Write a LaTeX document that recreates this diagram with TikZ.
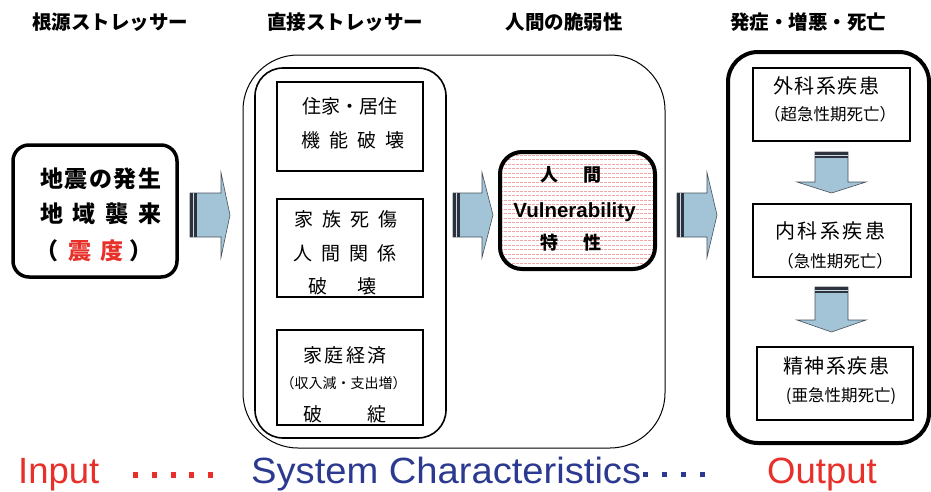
\documentclass[tikz,border=0pt]{standalone}
\usepackage{fontspec}
\setmainfont{Liberation Sans}
\newfontfamily\jp{Noto Sans CJK JP}
\definecolor{arrowfill}{RGB}{163,196,214}
\definecolor{arrowedge}{RGB}{70,80,90}
\definecolor{stripe}{RGB}{45,50,60}
\definecolor{inred}{RGB}{232,48,42}
\definecolor{sysblue}{RGB}{43,57,144}
\definecolor{pinkdot}{RGB}{242,165,165}
\newcommand\rblock[4]{%
  \filldraw[fill=arrowfill,draw=arrowedge,line width=0.6pt]
   (#1,#4-22) -- (#2,#4-22) -- (#2,#4-42.5) -- (#3,#4) -- (#2,#4+42.5) -- (#2,#4+22) -- (#1,#4+22) -- cycle;
  \fill[stripe] (#1,#4-22) rectangle (#1+7,#4+22);
  \fill[arrowfill!60!white] (#1+3,#4-22) rectangle (#1+4,#4+22);
}
\newcommand\dblock[4]{%
  \filldraw[fill=arrowfill,draw=arrowedge,line width=0.6pt]
   (#1-16.5,#2) -- (#1+16.5,#2) -- (#1+16.5,#3) -- (#1+34.5,#3) -- (#1,#4) -- (#1-34.5,#3) -- (#1-16.5,#3) -- cycle;
  \fill[stripe] (#1-16.5,#2) rectangle (#1+16.5,#2+6);
  \fill[arrowfill!60!white] (#1-16.5,#2+2.5) rectangle (#1+16.5,#2+3.5);
}
\begin{document}
\begin{tikzpicture}[x=1pt,y=-1pt,
  box/.style={draw,inner sep=0,line width=2pt},
  txt/.style={inner sep=0},
  head/.style={inner sep=0,font={\jp\bfseries\fontsize{19.5}{20}\selectfont}},
  mid/.style={inner sep=0,font={\jp\fontsize{19}{20}\selectfont}},
  rgt/.style={inner sep=0,font={\jp\fontsize{20}{21}\selectfont}},
  rgts/.style={inner sep=0,font={\jp\fontsize{16.5}{18}\selectfont}},
  bold/.style={inner sep=0,font={\jp\bfseries\fontsize{23}{24}\selectfont}},
  vul/.style={inner sep=0,font={\jp\bfseries\fontsize{18}{19}\selectfont}},
  big/.style={inner sep=0,font={\fontsize{36.5}{40}\selectfont}}]
\useasboundingbox (0,0) rectangle (931,491);

% headings
\node[head] (h1) at (110,22) {根源ストレッサー};
\node[head] (h2) at (345,22) {直接ストレッサー};
\node[head] (h3) at (564,22) {人間の脆弱性};
\node[head] (h4) at (808,22) {発症・増悪・死亡};

% left box
\node[box,line width=3.5pt,rounded corners=16,minimum width=164,minimum height=132] (L) at (95,211) {};
\node[bold] (L1) at (101,179) {地\hspace{1.5pt}震\hspace{1.5pt}の\hspace{1.5pt}発\hspace{1.5pt}生};
\node[bold] (L2) at (101,214) {地\hspace{10pt}域\hspace{10pt}襲\hspace{10pt}来};
\node[bold] (L3) at (93.5,251) {（\hspace{10pt}{\color{inred}震\hspace{10pt}度}\hspace{5pt}）};

% middle containers
\node[draw,line width=1pt,rounded corners=55,minimum width=422,minimum height=393,inner sep=0] (M) at (454,251.5) {};
\node[draw,line width=1.6pt,rounded corners=28,minimum width=191,minimum height=370,inner sep=0] (I) at (350.5,253) {};

\node[box,minimum width=146,minimum height=89] (A) at (350,126.5) {};
\node[mid] (A1) at (350,106) {住家・居住};
\node[mid] (A2) at (353,140) {機\hspace{9pt}能\hspace{9pt}破\hspace{9pt}壊};

\node[box,minimum width=146,minimum height=98] (B) at (350,248) {};
\node[mid] (B1) at (346,219) {家\hspace{9pt}族\hspace{9pt}死\hspace{9pt}傷};
\node[mid] (B2) at (345,253) {人\hspace{9pt}間\hspace{9pt}関\hspace{9pt}係};
\node[mid] (B3) at (342.5,286) {破\hspace{30pt}壊};

\node[box,minimum width=146,minimum height=95] (C) at (350,377.5) {};
\node[mid] (C1) at (345,355) {家\hspace{2.5pt}庭\hspace{2.5pt}経\hspace{2.5pt}済};
\node[txt,font={\jp\fontsize{14}{15}\selectfont}] (C2) at (343.5,383) {（収入減・支出増）};
\node[mid] (C3) at (345,414) {破\hspace{45pt}綻};

% vulnerability box
\begin{scope}
  \clip[rounded corners=22] (500,152) rectangle (655,269);
  \fill[white] (500,152) rectangle (655,269);
  \foreach \yy in {155,159.5,...,268} \draw[pinkdot,line width=0.8pt,dash pattern=on 2.5pt off 1.5pt] (500,\yy) -- (655,\yy);
\end{scope}
\node[draw,line width=4pt,rounded corners=22,minimum width=155,minimum height=117,inner sep=0] (V) at (577.5,210.5) {};
\node[vul] (V1) at (571,175) {人\hspace{25pt}間};
\node[txt,font={\bfseries\fontsize{20.5}{21}\selectfont},anchor=base] (V2) at (574.5,217) {Vulnerability};
\node[vul] (V3) at (571,243) {特\hspace{25pt}性};

% right container
\node[draw,line width=4pt,rounded corners=30,minimum width=201,minimum height=391,inner sep=0] (R) at (828.5,247.5) {};
\node[box,minimum width=157,minimum height=73] (D) at (831.5,104.5) {};
\node[rgt] (D1) at (826,86) {外\hspace{1.5pt}科\hspace{1.5pt}系\hspace{1.5pt}疾\hspace{1.5pt}患};
\node[rgts] (D2) at (830,114) {（超急性期死亡）};
\node[box,minimum width=158,minimum height=73] (E) at (832,240.5) {};
\node[rgt] (E1) at (830,231) {内\hspace{2.5pt}科\hspace{2.5pt}系\hspace{2.5pt}疾\hspace{2.5pt}患};
\node[rgts] (E2) at (835,261) {（急性期死亡）};
\node[box,minimum width=156,minimum height=73] (F) at (835,383.5) {};
\node[rgt] (F1) at (836,366) {精\hspace{1.5pt}神\hspace{1.5pt}系\hspace{1.5pt}疾\hspace{1.5pt}患};
\node[rgts] (F2) at (841,396) {(亜急性期死亡)};

% block arrows
\rblock{190}{221}{230}{215}
\rblock{453}{482}{493}{215}
\rblock{677}{707}{717}{215}
\dblock{831.5}{152}{182}{193}
\dblock{831.5}{287}{320}{332}

% bottom line
\node[big,text=inred,anchor=base west] (in) at (18,483) {Input};
\foreach \xx in {133,151.75,170.5,189.25,208} \fill[inred] (\xx,472) rectangle (\xx+5,478);
\node[big,text=sysblue,anchor=base west] (sys) at (251,483) {\scalebox{1.045}[1]{System Characteristics}};
\foreach \xx in {643,662,681,700} \fill[sysblue] (\xx,472) rectangle (\xx+5,477);
\node[big,text=inred,anchor=base west] (out) at (767,483) {Output};
\end{tikzpicture}
\end{document}
